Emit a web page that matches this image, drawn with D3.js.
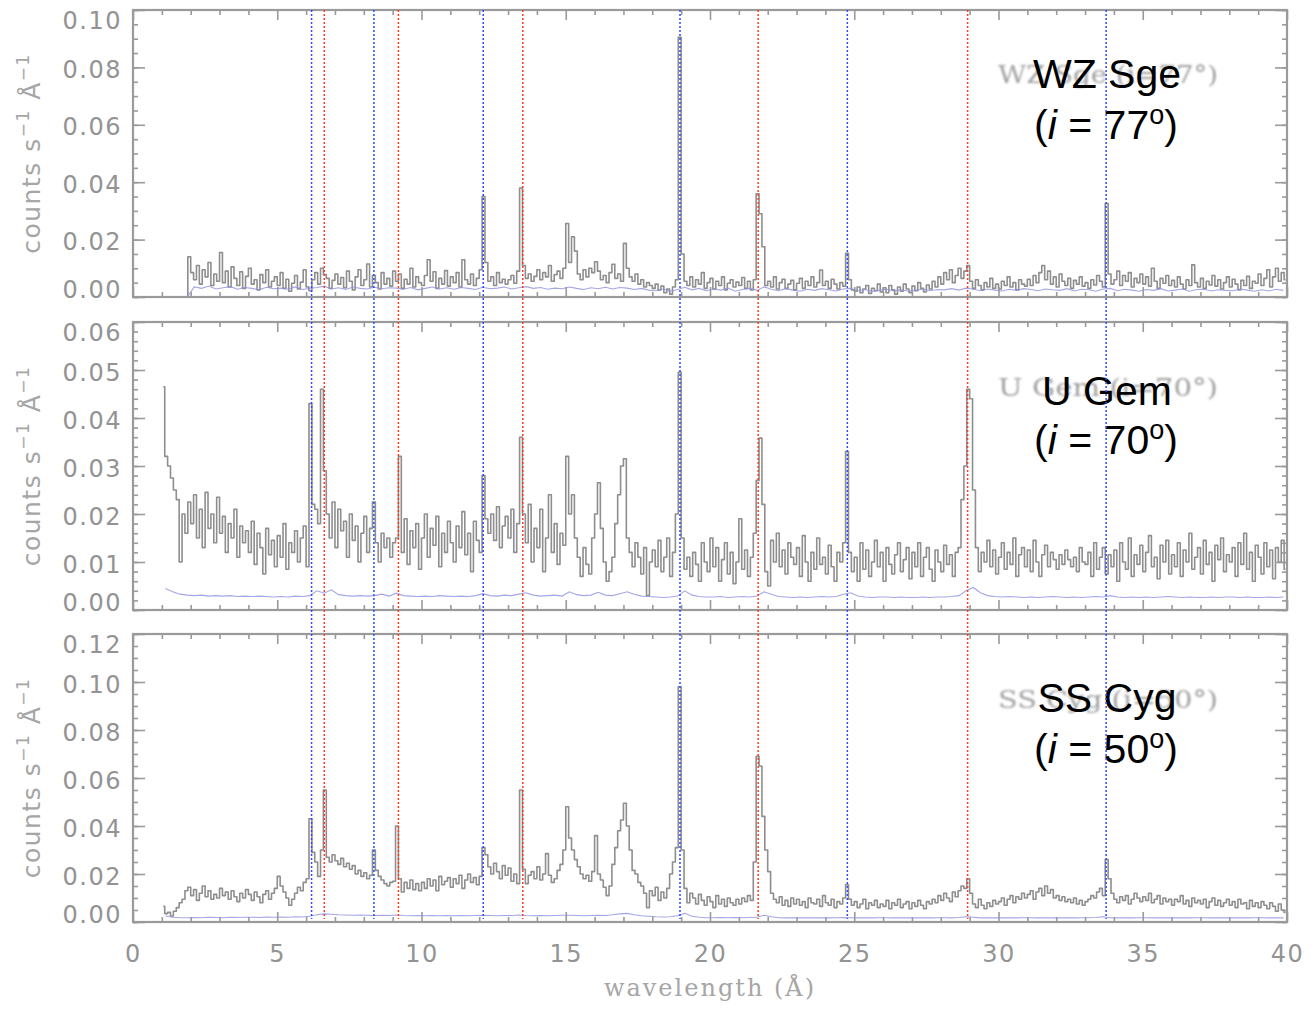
<!DOCTYPE html>
<html>
<head>
<meta charset="utf-8">
<script src="https://cdn.jsdelivr.net/npm/d3@7"></script>
<style>
  body { margin: 0; background: #fff; }
  svg { display: block; }
</style>
</head>
<body>
<svg id="chart" width="1314" height="1009"></svg>
<script>
// ---------------------------------------------------------------
// Spectra: flux per 0.1 Å bin, starting at 1.0 Å, in units of 1e-4 counts s^-1 Å^-1
// ---------------------------------------------------------------
const binStart = 1.0;
const binWidth = 0.1;
const bgStart = 1.0;
const bgWidth = 0.25;
const fluxUnit = 1e-4;

const wzSgeFlux = [
  0,0,0,0,0,0,0,0,0,140,
  85,60,110,45,95,70,120,40,80,55,
  155,50,90,35,105,65,40,88,30,72,
  100,45,60,25,78,50,95,35,55,70,
  40,85,30,62,20,48,75,28,52,95,
  35,22,60,85,45,100,78,65,30,58,
  80,45,68,32,90,55,25,70,95,40,
  60,115,35,75,50,28,85,45,65,38,
  90,55,80,30,62,45,100,35,70,50,
  40,75,130,55,88,30,65,45,92,38,
  70,50,85,35,130,60,45,80,40,65,
  95,350,120,55,70,40,85,50,62,45,
  60,75,48,90,380,110,65,80,55,72,
  95,60,85,70,110,55,78,90,65,100,
  256,120,210,160,80,60,95,70,100,85,
  123,90,60,75,50,85,114,65,80,55,
  187,100,70,55,80,45,60,35,50,40,
  30,45,25,38,15,28,10,35,60,905,
  150,55,40,70,35,60,45,85,30,50,
  65,28,55,40,70,25,48,60,35,52,
  40,68,30,55,25,60,360,290,175,40,
  55,35,70,28,50,62,30,45,58,25,
  48,65,30,55,40,70,35,50,94,40,
  55,30,62,45,28,50,38,152,60,25,
  20,35,15,28,40,12,30,22,45,18,
  32,15,40,25,10,35,20,45,28,15,
  38,22,50,30,18,42,28,55,35,70,
  45,85,60,95,50,75,100,65,90,110,
  55,30,60,40,25,50,35,65,30,45,
  28,55,40,70,35,50,25,60,45,38,
  62,40,75,50,85,110,60,90,45,70,
  35,80,55,40,65,30,58,45,70,38,
  50,30,60,42,75,55,35,326,80,45,
  60,90,40,75,55,85,35,65,50,80,
  45,70,38,100,55,30,65,48,75,40,
  58,35,70,45,28,60,40,112,50,35,
  65,30,55,42,75,38,60,28,50,70,
  35,62,45,25,58,40,72,30,55,48,
  80,40,65,95,35,70,100,55,85,60
];

const uGemFlux = [
  465,320,300,275,250,230,100,200,160,225,
  180,240,150,210,130,245,170,200,140,235,
  160,195,120,180,150,210,110,175,140,165,
  120,185,95,160,130,75,170,115,145,90,
  155,110,180,85,140,120,165,100,150,175,
  90,430,220,210,180,460,290,200,150,225,
  130,210,165,185,110,200,145,175,100,160,
  195,120,170,225,140,100,160,130,150,110,
  140,150,320,120,190,95,165,130,180,85,
  150,200,110,170,135,195,90,160,120,185,
  140,100,175,130,205,115,160,80,185,145,
  120,280,190,160,200,145,215,130,175,195,
  150,210,120,180,360,200,140,220,100,170,
  130,210,80,150,240,120,180,95,160,135,
  320,200,240,150,110,70,130,95,75,150,
  200,265,170,100,60,80,110,180,240,300,
  315,150,120,90,140,110,75,130,30,100,
  125,90,145,80,110,150,70,120,200,495,
  150,85,110,70,120,95,60,140,100,80,
  150,90,130,60,105,140,75,120,55,100,
  190,85,125,70,110,160,270,358,220,80,
  50,145,100,160,90,125,75,140,110,95,
  130,70,155,100,60,120,85,150,95,110,
  75,135,90,60,120,100,140,330,120,80,
  110,60,140,85,125,70,100,145,90,120,
  60,130,95,75,115,140,80,105,130,65,
  120,90,140,70,110,130,85,60,125,100,
  80,135,95,115,70,120,130,230,300,460,
  440,250,130,80,120,100,145,90,125,75,
  110,140,85,120,95,150,70,115,130,90,
  125,80,145,100,70,115,135,90,120,105,
  85,115,95,125,105,90,110,80,130,100,
  95,120,70,140,85,110,130,75,115,90,
  125,60,140,100,85,150,70,115,95,135,
  80,120,155,90,110,65,135,100,145,75,
  115,90,140,70,125,100,160,85,110,130,
  75,145,95,120,60,135,105,150,80,115,
  100,130,70,140,95,160,85,120,60,135,
  110,75,140,90,125,65,130,100,145,85
];

const ssCygFlux = [
  65,35,40,25,45,60,80,95,130,145,
  110,135,90,120,150,105,130,95,115,100,
  140,110,125,95,130,105,85,120,100,135,
  115,90,125,105,80,115,130,95,120,140,
  190,150,125,100,70,95,120,145,130,165,
  180,430,290,250,190,300,550,270,250,280,
  255,240,265,230,245,220,235,200,215,190,
  205,180,195,300,215,190,175,160,150,165,
  170,400,180,125,165,140,175,135,160,130,
  165,140,180,150,175,130,190,155,170,185,
  145,180,160,195,140,175,200,165,185,155,
  190,310,280,230,200,245,210,180,235,195,
  225,170,200,160,550,220,160,195,210,180,
  230,175,200,285,195,165,180,215,240,300,
  480,350,300,260,230,200,180,195,170,210,
  360,200,175,145,110,150,240,310,380,425,
  495,400,300,215,200,165,150,120,60,130,
  110,145,90,125,100,140,200,250,310,980,
  300,140,80,120,100,75,115,90,70,105,
  85,60,110,75,95,65,100,80,70,95,
  75,100,85,110,90,250,690,650,440,300,
  210,120,95,80,105,70,90,65,100,75,
  95,70,85,60,100,80,75,95,65,110,
  80,70,95,60,85,75,100,155,95,70,
  85,60,75,95,55,80,70,90,60,75,
  65,90,55,80,70,95,60,75,85,55,
  80,65,90,70,55,85,75,95,80,110,
  90,120,100,85,125,105,130,150,140,180,
  120,75,60,95,70,55,80,65,90,75,
  85,100,70,95,110,80,105,95,120,100,
  115,130,95,125,140,110,150,120,135,100,
  110,90,105,85,95,80,100,75,90,70,
  85,95,110,100,125,140,110,260,180,120,
  95,80,105,90,110,75,95,120,100,85,
  105,90,120,80,95,110,75,100,85,95,
  70,95,85,110,75,90,65,100,80,90,
  75,95,60,85,100,70,90,65,80,95,
  70,85,60,95,75,80,55,90,65,80,
  60,85,70,55,80,65,45,75,50,40
];

// Background spectra: 0.25 Å bins from 1.0 Å, same units
const wzSgeBackground = [
  0,0,0,0, 35,30,38,28, 32,36,27,33, 30,25,34,29, 31,27,35,26,
  30,33,38,28, 32,26,35,30, 28,34,29,32, 31,27,33,25, 30,35,28,32,
  27,33,30,26, 34,29,31,35, 28,32,36,30, 33,27,31,29, 35,30,26,32,
  29,34,28,33, 31,26,30,24, 22,28,20,26, 34,25,30,22, 28,24,31,20,
  26,30,23,35, 27,22,29,24, 20,27,23,29, 25,21,28,30, 22,26,19,24,
  27,21,25,20, 23,28,22,26, 25,29,24,31, 27,22,28,24, 21,27,23,29,
  26,22,28,25, 23,29,21,27, 25,20,28,30, 22,27,24,20, 26,23,29,21,
  24,28,20,26, 27,21,25,23, 22,28,24,20, 25,21,27,23
];

const uGemBackground = [
  45,38,33,31, 30,31,29,30, 29,30,28,29, 28,29,28,27, 28,27,29,28,
  30,40,35,42, 32,30,29,30, 29,30,33,29, 35,30,29,28, 29,28,30,29,
  28,29,28,30, 34,30,29,31, 30,33,36,31, 29,30,31,29, 38,32,30,31,
  37,31,30,34, 38,33,29,28, 27,26,27,29, 40,31,28,27, 27,28,26,27,
  28,27,29,38, 33,28,27,26, 27,26,27,28, 27,28,33,36, 29,27,26,27,
  27,26,27,26, 26,27,26,27, 27,28,30,40, 47,36,30,28, 27,28,27,26,
  27,26,27,28, 27,26,27,26, 27,28,27,30, 27,26,27,26, 27,26,27,28,
  27,26,27,26, 26,27,26,27, 27,26,27,26, 26,27,26,27
];

const ssCygBackground = [
  25,20,18,18, 19,18,20,19, 18,20,19,20, 20,19,21,20, 21,20,22,21,
  24,30,34,32, 30,29,28,29, 28,27,28,27, 29,27,26,27, 26,27,26,27,
  26,27,26,27, 28,27,26,27, 27,29,27,26, 27,26,27,28, 28,27,26,27,
  28,27,30,34, 36,30,26,24, 22,21,22,26, 36,24,20,18, 18,19,18,19,
  18,19,20,28, 22,18,17,18, 17,18,17,18, 17,18,19,18, 17,18,17,18,
  18,17,18,17, 17,18,17,18, 18,17,19,22, 20,17,18,17, 17,18,17,18,
  18,17,18,17, 17,18,17,18, 18,19,22,18, 17,18,17,18, 18,17,18,17,
  17,18,17,18, 18,17,18,17, 17,18,17,18, 18,17,18,17
];

// Reference line wavelengths (Å): H-like (blue) and He-like (red) ions
const hLikeLines = [6.19, 8.35, 12.14, 18.96, 24.76, 33.73];
const heLikeLines = [6.63, 9.20, 13.51, 21.67, 28.93];

// Panel names and inclinations
const starNames = ["WZ Sge", "U Gem", "SS Cyg"];
const inclinations = ["77", "70", "50"];
const yMaxima = [0.10, 0.06, 0.12];
const yMajorSteps = [0.02, 0.01, 0.02];
const yMinorSteps = [0.005, 0.002, 0.005];
const xTickLabels = [0, 5, 10, 15, 20, 25, 30, 35, 40];

// ---------------------------------------------------------------
// Layout
// ---------------------------------------------------------------
const svg = d3.select("#chart");
const left = 133, right = 1287;
const panelBoxes = [
  { top: 10, bottom: 297, nameY: 88, inclY: 139, ghostY: 83 },
  { top: 322, bottom: 610, nameY: 405, inclY: 454, ghostY: 396 },
  { top: 634, bottom: 922, nameY: 712, inclY: 763, ghostY: 708 }
];
const fluxSeries = [wzSgeFlux, uGemFlux, ssCygFlux];
const bgSeries = [wzSgeBackground, uGemBackground, ssCygBackground];

const axisGrey = "#9a9a9a";
const textGrey = "#939393";
const tickFont = "'DejaVu Sans', sans-serif";

const x = d3.scaleLinear().domain([0, 40]).range([left, right]);

const defs = svg.append("defs");
defs.append("filter").attr("id", "soft")
  .append("feGaussianBlur").attr("stdDeviation", 0.9);

function toPoints(values, start, width) {
  return values.map((v, i) => ({ lam: start + (i + 0.5) * width, f: v * fluxUnit }));
}

panelBoxes.forEach((box, p) => {
  const y = d3.scaleLinear().domain([0, yMaxima[p]]).range([box.bottom, box.top]);
  const g = svg.append("g");

  defs.append("clipPath").attr("id", "clip" + p)
    .append("rect").attr("x", left).attr("y", box.top)
    .attr("width", right - left).attr("height", box.bottom - box.top);

  const bgPts = toPoints(bgSeries[p], bgStart, bgWidth);
  const spPts = toPoints(fluxSeries[p], binStart, binWidth);
  const stepLine = d3.line().x(d => x(d.lam)).y(d => y(d.f)).curve(d3.curveStep);

  // source spectrum (histogram style)
  g.append("path")
    .datum(spPts)
    .attr("clip-path", `url(#clip${p})`)
    .attr("d", stepLine)
    .attr("fill", "none")
    .attr("stroke", "#8e8e8e")
    .attr("stroke-width", 1.6)
    .attr("stroke-linejoin", "round");

  // background spectrum
  g.append("path")
    .datum(bgPts)
    .attr("clip-path", `url(#clip${p})`)
    .attr("d", d3.line().x(d => x(d.lam)).y(d => y(d.f)).curve(d3.curveLinear))
    .attr("fill", "none")
    .attr("stroke", "#8f8fe0")
    .attr("stroke-opacity", 0.8)
    .attr("stroke-width", 1.1);

  // ticks: x major/minor on bottom and top, y major/minor on left and right
  const xMajor = d3.range(0, 40.01, 5);
  const xMinor = d3.range(0, 40.01, 1).filter(v => v % 5 !== 0);
  const nMaj = Math.round(yMaxima[p] / yMajorSteps[p]);
  const yMajor = d3.range(0, nMaj + 1).map(i => i * yMajorSteps[p]);
  const nMin = Math.round(yMaxima[p] / yMinorSteps[p]);
  const yMinor = d3.range(0, nMin + 1).map(i => i * yMinorSteps[p]);

  const isBottomPanel = p === panelBoxes.length - 1;

  const styleAxis = sel => {
    sel.select(".domain").remove();
    sel.selectAll(".tick line").attr("stroke", axisGrey).attr("stroke-width", 1.6);
    sel.selectAll(".tick text")
      .attr("fill", textGrey)
      .style("font-family", tickFont)
      .style("font-size", "24px")
      .style("letter-spacing", "1.5px");
  };

  g.append("g").attr("transform", `translate(0,${box.bottom})`)
    .call(d3.axisBottom(x).tickValues(isBottomPanel ? xTickLabels : xMajor)
      .tickSize(-10).tickPadding(23)
      .tickFormat(isBottomPanel ? d3.format("d") : () => ""))
    .call(styleAxis);
  g.append("g").attr("transform", `translate(0,${box.bottom})`)
    .call(d3.axisBottom(x).tickValues(xMinor).tickSize(-5).tickFormat(() => ""))
    .call(styleAxis);
  g.append("g").attr("transform", `translate(0,${box.top})`)
    .call(d3.axisTop(x).tickValues(xMajor).tickSize(-10).tickFormat(() => ""))
    .call(styleAxis);
  g.append("g").attr("transform", `translate(0,${box.top})`)
    .call(d3.axisTop(x).tickValues(xMinor).tickSize(-5).tickFormat(() => ""))
    .call(styleAxis);

  const yLeft = g.append("g").attr("transform", `translate(${left},0)`)
    .call(d3.axisLeft(y).tickValues(yMajor).tickSize(-12).tickPadding(11)
      .tickFormat(d3.format(".2f")))
    .call(styleAxis);
  // keep the end labels inside the frame height
  yLeft.selectAll(".tick text")
    .attr("dy", (d, i) => i === 0 ? "0em" : (i === yMajor.length - 1 ? "0.76em" : "0.42em"));

  g.append("g").attr("transform", `translate(${left},0)`)
    .call(d3.axisLeft(y).tickValues(yMinor).tickSize(-5).tickFormat(() => ""))
    .call(styleAxis);
  g.append("g").attr("transform", `translate(${right},0)`)
    .call(d3.axisRight(y).tickValues(yMajor).tickSize(-12).tickFormat(() => ""))
    .call(styleAxis);
  g.append("g").attr("transform", `translate(${right},0)`)
    .call(d3.axisRight(y).tickValues(yMinor).tickSize(-5).tickFormat(() => ""))
    .call(styleAxis);

  // frame
  g.append("rect")
    .attr("x", left).attr("y", box.top)
    .attr("width", right - left).attr("height", box.bottom - box.top)
    .attr("fill", "none").attr("stroke", axisGrey).attr("stroke-width", 2.2);

  // y-axis title
  const cy = (box.top + box.bottom) / 2;
  const yt = g.append("text")
    .attr("transform", `translate(40,${cy}) rotate(-90)`)
    .attr("text-anchor", "middle")
    .attr("fill", "#a6a6a6")
    .style("font-family", tickFont)
    .style("font-size", "25px")
    .style("letter-spacing", "1.5px");
  yt.append("tspan").text("counts s");
  yt.append("tspan").attr("dy", -11).style("font-size", "17px").text("\u22121");
  yt.append("tspan").attr("dy", 11).text(" \u00C5");
  yt.append("tspan").attr("dy", -11).style("font-size", "17px").text("\u22121");

  // faint in-plot label
  g.append("text")
    .attr("x", 998).attr("y", box.ghostY)
    .attr("textLength", 220).attr("lengthAdjust", "spacingAndGlyphs")
    .attr("fill", "#a0a0a0")
    .attr("filter", "url(#soft)")
    .style("font-family", "'DejaVu Serif', serif")
    .style("font-size", "25px")
    .text(`${starNames[p]} (i=${inclinations[p]}\u00B0)`);

  // black label
  const lab = g.append("g").attr("fill", "#000")
    .style("font-family", "'Liberation Sans', Arial, sans-serif")
    .style("font-size", "41px");
  lab.append("text").attr("x", 1107).attr("y", box.nameY)
    .attr("text-anchor", "middle").text(starNames[p]);
  const inc = lab.append("text").attr("x", 1106).attr("y", box.inclY)
    .attr("text-anchor", "middle");
  inc.append("tspan").text("(");
  inc.append("tspan").style("font-style", "italic").text("i");
  inc.append("tspan").text(" = " + inclinations[p]);
  inc.append("tspan").attr("dy", -15).style("font-size", "27px").text("o");
  inc.append("tspan").attr("dy", 15).text(")");
});

// dotted reference lines across all panels
const lineTop = panelBoxes[0].top;
const lineBottom = panelBoxes[2].bottom - 3;
const refLines = svg.append("g");
refLines.selectAll("line.h").data(hLikeLines).join("line")
  .attr("class", "h")
  .attr("x1", d => x(d)).attr("x2", d => x(d))
  .attr("y1", lineTop).attr("y2", lineBottom)
  .attr("stroke", "#2a4bff").attr("stroke-width", 1.5)
  .attr("stroke-dasharray", "2,2");
refLines.selectAll("line.he").data(heLikeLines).join("line")
  .attr("class", "he")
  .attr("x1", d => x(d)).attr("x2", d => x(d))
  .attr("y1", lineTop).attr("y2", lineBottom)
  .attr("stroke", "#ff3b1a").attr("stroke-width", 1.5)
  .attr("stroke-dasharray", "2,2");

// x-axis title
svg.append("text")
  .attr("x", 710).attr("y", 996)
  .attr("text-anchor", "middle")
  .attr("fill", "#a6a6a6")
  .style("font-family", "'DejaVu Serif', serif")
  .style("font-size", "24px")
  .style("letter-spacing", "2px")
  .text("wavelength (\u00C5)");
</script>
</body>
</html>
